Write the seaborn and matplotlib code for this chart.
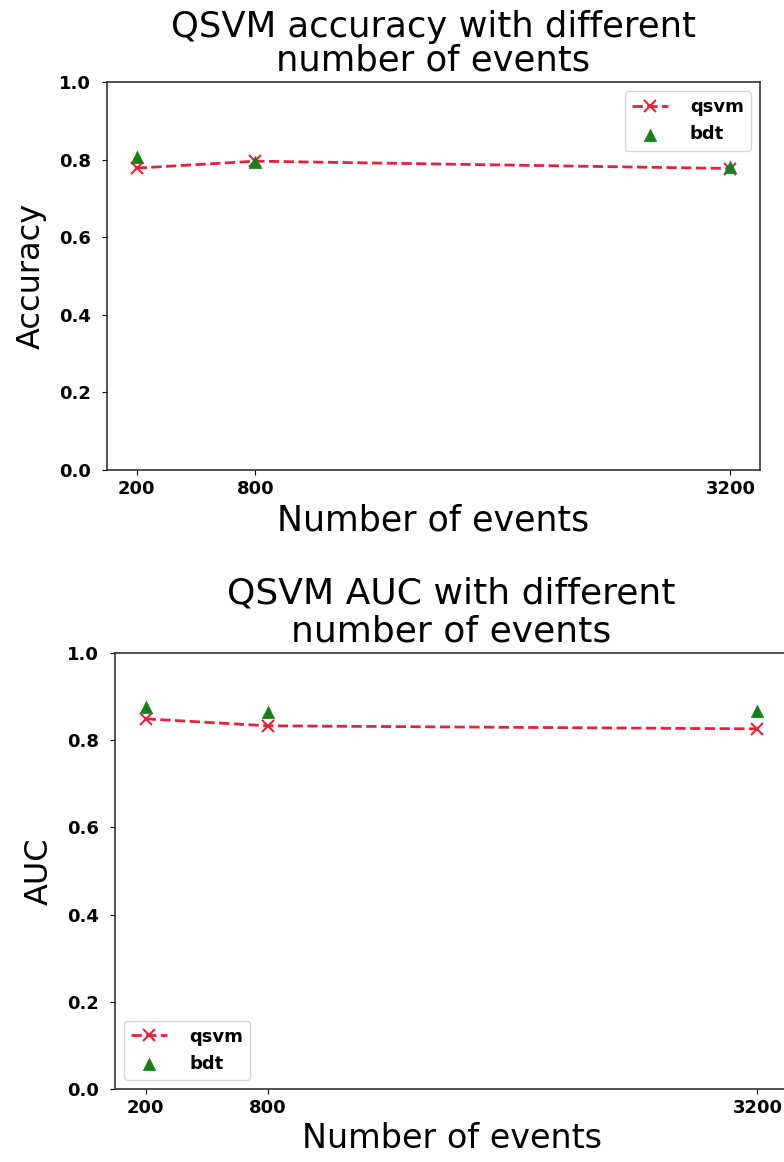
import numpy as np
import pandas as pd
import matplotlib
matplotlib.use('Agg')
import matplotlib.pyplot as plt
import seaborn as sns

events = [200, 800, 3200]
qsvm_acc = [0.778, 0.796, 0.777]
bdt_acc = [0.807, 0.795, 0.780]
qsvm_auc = [0.849, 0.833, 0.826]
bdt_auc = [0.876, 0.865, 0.867]

sns.set_style('ticks')
plt.rcParams['font.family'] = ['DejaVu Sans']
plt.rcParams['text.color'] = 'black'
plt.rcParams['axes.labelcolor'] = 'black'
plt.rcParams['xtick.color'] = 'black'
plt.rcParams['ytick.color'] = 'black'

W, H = 784, 1162
fig = plt.figure(figsize=(W / 100, H / 100), dpi=100)

red = '#e3223c'
green = '#1a7f1a'


def box(l, t, r, b):
    return [l / W, 1 - b / H, (r - l) / W, (b - t) / H]


def panel(ax, qsvm, bdt, title, ylabel, loc, tsize, tspace, xsize, ysize):
    df = pd.DataFrame({'events': events, 'qsvm': qsvm, 'bdt': bdt})
    sns.lineplot(data=df, x='events', y='qsvm', ax=ax, color=red, linestyle='--',
                 marker='x', markersize=9, markeredgewidth=1.5, linewidth=2,
                 markeredgecolor=red, label='qsvm')
    sns.scatterplot(data=df, x='events', y='bdt', ax=ax, color=green, marker='^',
                    s=80, edgecolor=green, linewidth=0.5, label='bdt', zorder=3)
    ax.set_ylim(0, 1.0)
    ax.set_xticks(events)
    ax.set_xticklabels([str(e) for e in events])
    ax.set_yticks(np.arange(0, 1.01, 0.2))
    ax.set_yticklabels([f'{v:.1f}' for v in np.arange(0, 1.01, 0.2)])
    ax.tick_params(labelsize=13)
    ax.tick_params(axis='y', pad=8)
    for lab in ax.get_xticklabels() + ax.get_yticklabels():
        lab.set_fontweight('bold')
    ax.set_title(title, fontsize=tsize, linespacing=tspace, pad=8)
    ax.set_xlabel('Number of events', fontsize=xsize)
    ax.set_ylabel(ylabel, fontsize=ysize, labelpad=9)
    ax.legend(loc=loc, prop={'weight': 'bold', 'size': 13}, handletextpad=1.2)
    for sp in ax.spines.values():
        sp.set_linewidth(1.2)
        sp.set_color('#333333')


ax1 = fig.add_axes(box(107, 82, 760, 470))
panel(ax1, qsvm_acc, bdt_acc, 'QSVM accuracy with different\nnumber of events',
      'Accuracy', 'upper right', 25.5, 1.0, 25, 23)

ax2 = fig.add_axes(box(115, 653, 788, 1089))
panel(ax2, qsvm_auc, bdt_auc, 'QSVM AUC with different\nnumber of events',
      'AUC', 'lower left', 26, 1.15, 24, 23)

fig.savefig('out.png', dpi=100)
